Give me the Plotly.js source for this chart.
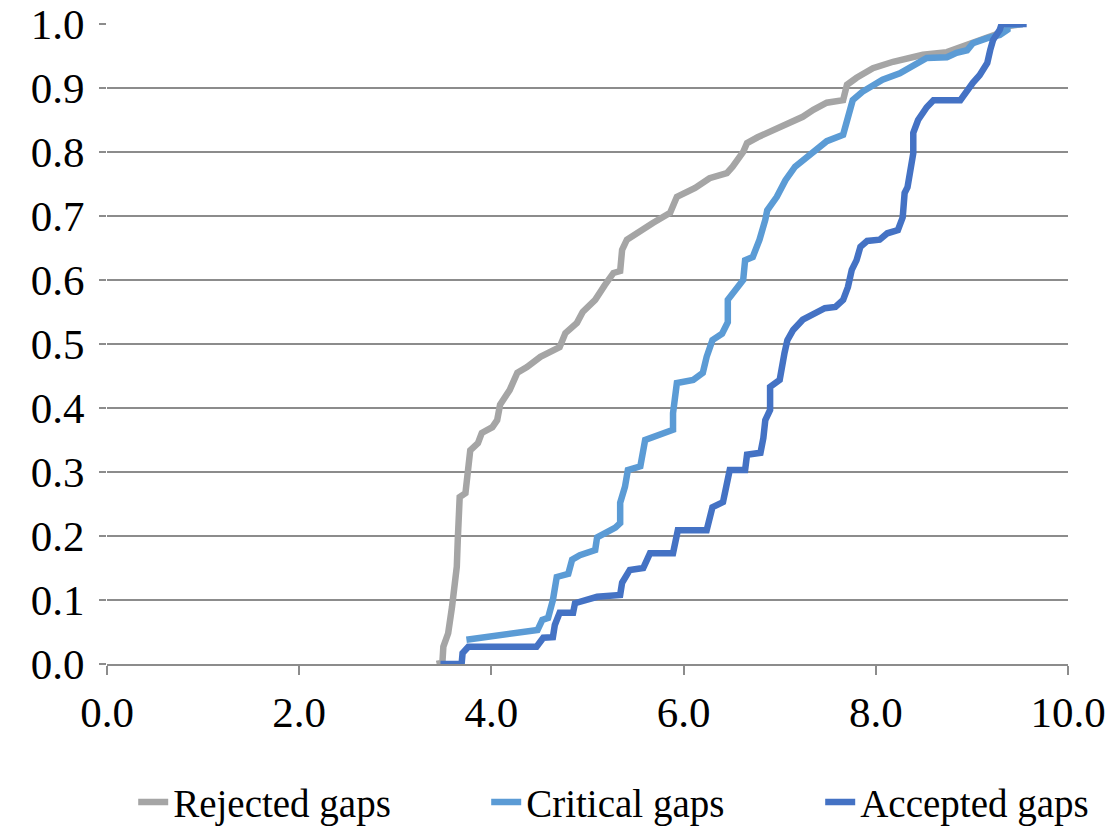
<!DOCTYPE html>
<html>
<head>
<meta charset="utf-8">
<script src="https://cdn.plot.ly/plotly-3.0.1.min.js"></script>
<style>html,body{margin:0;padding:0;background:#fff;}#chart{width:1110px;height:827px;}</style>
</head>
<body>
<div id="chart"></div>
<script>
const rejectedX = [3.43,3.49,3.50,3.55,3.59,3.64,3.65,3.67,3.73,3.75,3.78,3.86,3.90,4.01,4.06,4.09,4.19,4.27,4.37,4.51,4.64,4.71,4.77,4.89,4.95,5.08,5.18,5.27,5.34,5.36,5.41,5.55,5.68,5.86,5.93,6.12,6.27,6.45,6.51,6.62,6.66,6.77,6.93,7.11,7.24,7.35,7.49,7.66,7.70,7.80,7.97,8.18,8.36,8.49,8.74,8.88,9.00,9.16,9.29,9.38,9.53];
const rejectedY = [0.000,0.002,0.027,0.048,0.089,0.152,0.194,0.261,0.267,0.303,0.334,0.345,0.361,0.370,0.381,0.405,0.428,0.455,0.464,0.480,0.491,0.495,0.517,0.533,0.550,0.569,0.592,0.611,0.614,0.647,0.663,0.678,0.689,0.705,0.730,0.744,0.759,0.767,0.777,0.800,0.814,0.823,0.834,0.845,0.855,0.866,0.877,0.881,0.905,0.916,0.931,0.941,0.947,0.952,0.956,0.963,0.970,0.978,0.986,0.997,1.000];

const criticalX = [3.74,4.48,4.53,4.59,4.64,4.68,4.80,4.84,4.92,5.08,5.10,5.29,5.34,5.34,5.39,5.42,5.55,5.60,5.89,5.89,5.93,6.10,6.20,6.24,6.30,6.40,6.46,6.46,6.62,6.64,6.72,6.79,6.85,6.87,6.97,7.06,7.16,7.28,7.39,7.49,7.66,7.70,7.76,7.86,7.94,8.07,8.25,8.39,8.53,8.74,8.84,8.95,9.01,9.16,9.29,9.37,9.37,9.53];
const criticalY = [0.038,0.053,0.069,0.072,0.100,0.136,0.141,0.163,0.170,0.178,0.198,0.213,0.220,0.252,0.277,0.303,0.309,0.350,0.366,0.392,0.439,0.444,0.455,0.480,0.506,0.516,0.534,0.569,0.600,0.631,0.636,0.663,0.694,0.709,0.730,0.756,0.777,0.792,0.806,0.817,0.827,0.850,0.881,0.894,0.902,0.913,0.923,0.936,0.947,0.948,0.955,0.959,0.970,0.978,0.983,0.991,0.998,1.000];

const acceptedX = [3.47,3.69,3.70,3.76,4.47,4.54,4.64,4.66,4.71,4.85,4.87,5.10,5.34,5.36,5.44,5.58,5.65,5.89,5.94,6.24,6.30,6.41,6.48,6.64,6.66,6.80,6.83,6.85,6.90,6.90,7.00,7.03,7.05,7.08,7.14,7.24,7.37,7.47,7.58,7.66,7.71,7.75,7.80,7.84,7.91,8.04,8.12,8.23,8.28,8.30,8.33,8.36,8.39,8.39,8.44,8.53,8.60,8.88,8.95,9.01,9.08,9.16,9.19,9.22,9.29,9.31,9.57];
const acceptedY = [0.000,0.000,0.017,0.027,0.027,0.041,0.042,0.061,0.080,0.080,0.095,0.105,0.108,0.127,0.147,0.150,0.173,0.173,0.209,0.209,0.245,0.253,0.303,0.303,0.327,0.330,0.353,0.381,0.397,0.433,0.444,0.463,0.486,0.506,0.522,0.538,0.548,0.556,0.558,0.569,0.589,0.616,0.631,0.652,0.661,0.663,0.673,0.678,0.698,0.736,0.745,0.777,0.798,0.830,0.850,0.870,0.881,0.881,0.897,0.908,0.920,0.939,0.959,0.975,0.991,1.000,1.000];

const seriesNames = ["Rejected gaps","Critical gaps","Accepted gaps"];
const xTickVals = [0,2,4,6,8,10];
const xTickText = ["0.0","2.0","4.0","6.0","8.0","10.0"];
const yTickVals = [0,0.1,0.2,0.3,0.4,0.5,0.6,0.7,0.8,0.9,1.0];
const yTickText = ["0.0","0.1","0.2","0.3","0.4","0.5","0.6","0.7","0.8","0.9","1.0"];

const colors = ["#A5A5A5","#5B9BD5","#4472C4"];
const xs = [rejectedX, criticalX, acceptedX];
const ys = [rejectedY, criticalY, acceptedY];
const legendWidths = [308, 289, undefined];

const traces = seriesNames.map((n,i)=>{
  const t = {
    type:"scatter", mode:"lines", name:n, x:xs[i], y:ys[i],
    line:{color:colors[i], width:6.5, shape:"linear"}, hoverinfo:"skip"
  };
  if (legendWidths[i] !== undefined) t.legendwidth = legendWidths[i];
  return t;
});

const fam = "Liberation Serif, Times New Roman, serif";
const tickFont = {family:fam, size:43, color:"#000"};
const layout = {
  width:1110, height:827,
  margin:{l:107, r:42, t:24, b:163},
  paper_bgcolor:"#fff", plot_bgcolor:"#fff",
  font:tickFont,
  showlegend:true,
  legend:{orientation:"h", xref:"container", yref:"container", x:0.12, xanchor:"left", y:0.03, yanchor:"middle",
    font:{family:fam, size:39, color:"#000"}, tracegroupgap:0, traceorder:"normal"},
  xaxis:{range:[0,10], tickvals:xTickVals, ticktext:xTickText, showgrid:false, zeroline:false,
    showline:true, linecolor:"#8c8c8c", linewidth:2, ticks:"outside", ticklen:9, tickcolor:"#8c8c8c", tickwidth:2,
    tickfont:tickFont, fixedrange:true},
  yaxis:{range:[0,1], tickvals:yTickVals, ticktext:yTickText, showgrid:true, gridcolor:"#8c8c8c", gridwidth:2,
    zeroline:false, showline:false, ticks:"outside", ticklen:7, tickcolor:"#8c8c8c", tickwidth:2,
    ticklabelstandoff:6, tickfont:tickFont, fixedrange:true}
};
Plotly.newPlot("chart", traces, layout, {staticPlot:true, displayModeBar:false});
</script>
</body>
</html>
